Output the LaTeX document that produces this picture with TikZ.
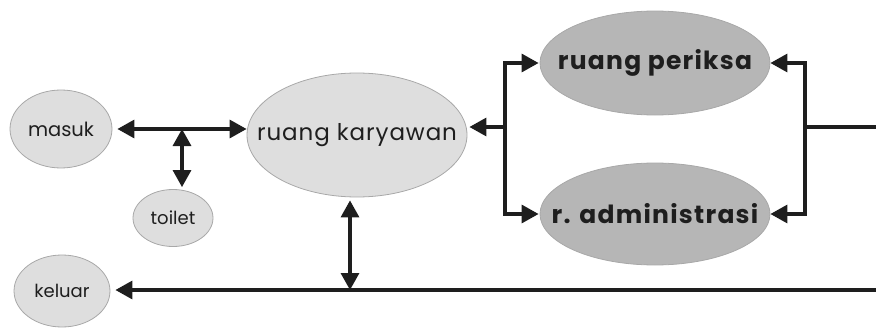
\documentclass[tikz,border=0pt]{standalone}
\usepackage{fontspec}
\setmainfont{Poppins}
\usetikzlibrary{arrows.meta,shapes.geometric}
\definecolor{lightfill}{HTML}{DEDEDE}
\definecolor{darkfill}{HTML}{B6B6B6}
\definecolor{rim}{HTML}{A8A8A8}
\definecolor{ink}{HTML}{1E1E1E}
\newcommand{\zw}[1]{\makebox[0pt]{#1}}
\tikzset{
  room/.style={ellipse, draw=rim, line width=0.8pt, fill=lightfill, inner sep=0pt, text=ink},
  bigroom/.style={ellipse, draw=rim, line width=0.8pt, fill=darkfill, inner sep=0pt, text=ink, font=\bfseries\fontsize{25}{28}\selectfont\addfontfeatures{LetterSpace=5}},
  tip/.tip={Triangle[length=17pt,width=18pt]},
  flow/.style={line width=3.2pt, draw=ink, arrows={-tip}},
  flow2/.style={line width=3.2pt, draw=ink, arrows={tip-tip}},
  plain/.style={line width=3.2pt, draw=ink}
}
\begin{document}
\begin{tikzpicture}[x=1pt,y=-1pt]
\useasboundingbox (0,0) rectangle (876,332);
\node[room, minimum width=102pt, minimum height=78pt, font=\fontsize{19.5}{22}\selectfont] (masuk) at (61,129) {\zw{masuk}};
\node[room, minimum width=80pt, minimum height=57pt, font=\fontsize{18}{21}\selectfont] (toilet) at (173,218) {\zw{toilet}};
\node[room, minimum width=96pt, minimum height=72pt, font=\fontsize{18}{21}\selectfont] (keluar) at (62,291) {\zw{keluar}};
\node[room, minimum width=220pt, minimum height=124pt, font=\fontsize{23}{26}\selectfont\addfontfeatures{LetterSpace=4}] (rk) at (357,135) {\zw{ruang karyawan}};
\node[bigroom, minimum width=230pt, minimum height=104pt] (rp) at (655,63) {\zw{ruang periksa}};
\node[bigroom, minimum width=230pt, minimum height=102pt] (ra) at (655,214) {\zw{r. administrasi}};

\coordinate (j1) at (182,129);
\coordinate (j2) at (505,127);
\coordinate (j3) at (805,127);
\coordinate (j4) at (350,290);
\coordinate (e1) at (876,127);
\coordinate (e2) at (876,290);

\draw[flow2, shorten <=5pt] (masuk.east |- j1) -- (rk.west |- j1);
\draw[flow2, shorten >=2pt] (j1) -- (j1 |- toilet.north);
\draw[flow] (j2) -- ([xshift=2pt]rk.east |- j2);
\draw[flow] (j2) |- ([xshift=-1pt]rp.west);
\draw[flow] (j2) |- ([xshift=-1pt]ra.west);
\draw[plain] (e1) -- (j3);
\draw[flow] (j3) |- (rp.east);
\draw[flow] (j3) |- (ra.east);
\draw[flow, shorten >=5pt] (e2) -- (keluar.east |- e2);
\draw[flow2] (j4) -- ([yshift=-3pt]j4 |- rk.south);
\end{tikzpicture}
\end{document}
